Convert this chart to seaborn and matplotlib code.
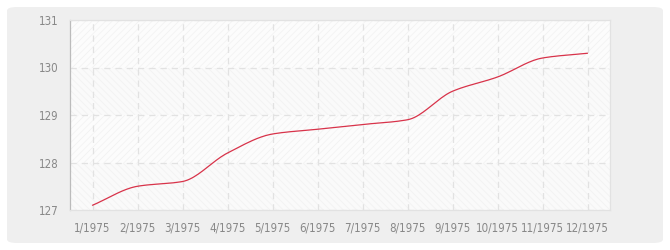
import numpy as np
import pandas as pd
import matplotlib
matplotlib.use("Agg")
import matplotlib.pyplot as plt
from matplotlib.patches import FancyBboxPatch, Rectangle
import seaborn as sns

months = ["1/1975", "2/1975", "3/1975", "4/1975", "5/1975", "6/1975",
          "7/1975", "8/1975", "9/1975", "10/1975", "11/1975", "12/1975"]
values = [127.1, 127.5, 127.6, 128.2, 128.6, 128.7, 128.8, 128.9, 129.5, 129.8, 130.2, 130.3]
yticks = [127, 128, 129, 130, 131]


def smooth(x, y, n=20):
    # monotone cubic Hermite (Fritsch-Carlson) for drawing a smooth curve
    x = np.asarray(x, float); y = np.asarray(y, float)
    h = np.diff(x); d = np.diff(y) / h
    m = np.zeros_like(y)
    m[0] = d[0]; m[-1] = d[-1]
    for i in range(1, len(y) - 1):
        if d[i - 1] * d[i] <= 0:
            m[i] = 0
        else:
            w1 = 2 * h[i] + h[i - 1]; w2 = h[i] + 2 * h[i - 1]
            m[i] = (w1 + w2) / (w1 / d[i - 1] + w2 / d[i])
    xs, ys = [], []
    for i in range(len(x) - 1):
        t = np.linspace(0, 1, n, endpoint=False)
        h00 = 2 * t**3 - 3 * t**2 + 1; h10 = t**3 - 2 * t**2 + t
        h01 = -2 * t**3 + 3 * t**2; h11 = t**3 - t**2
        xs.append(x[i] + t * h[i])
        ys.append(h00 * y[i] + h10 * h[i] * m[i] + h01 * y[i + 1] + h11 * h[i] * m[i + 1])
    xs.append([x[-1]]); ys.append([y[-1]])
    return np.concatenate(xs), np.concatenate(ys)


sns.set_style("white")
plt.rcParams["font.family"] = ["DejaVu Sans"]
plt.rcParams["font.stretch"] = "condensed"
plt.rcParams["hatch.color"] = "#ececec"
plt.rcParams["hatch.linewidth"] = 0.5

fig = plt.figure(figsize=(6.7, 2.5), dpi=100)
fig.patch.set_facecolor("white")
bg = FancyBboxPatch((7 / 670, 7 / 250), 656 / 670, 236 / 250,
                    boxstyle="round,pad=0,rounding_size=0.015",
                    transform=fig.transFigure, facecolor="#efefef",
                    edgecolor="none", zorder=-10)
fig.patches.append(bg)

ax = fig.add_axes([70 / 670, 40 / 250, 540 / 670, 190 / 250])
ax.set_zorder(1)
ax.set_facecolor("#fcfcfc")

# alternating hatched bands
for i, lo in enumerate(yticks[:-1]):
    ax.add_patch(Rectangle((-0.5, lo), 12, 1, facecolor="#fafafa" if i % 2 == 0 else "#fcfcfc",
                           hatch="/////" if i % 2 == 1 else "\\\\\\\\\\", edgecolor="#f1f1f1",
                           linewidth=0, zorder=0))

xs, ys = smooth(np.arange(len(values)), values)
df = pd.DataFrame({"x": xs, "y": ys})
sns.lineplot(data=df, x="x", y="y", ax=ax, color="#d8334a", linewidth=0.9, zorder=3)

ax.set_xlim(-0.5, 11.5)
ax.set_ylim(127, 131)
ax.set_xticks(range(len(months)))
ax.set_xticklabels(months)
ax.set_yticks(yticks)
ax.set_xlabel(""); ax.set_ylabel("")
ax.grid(True, color="#e2e2e2", linestyle=(0, (5, 4)), linewidth=0.9, zorder=1)
ax.set_axisbelow(True)
for s in ax.spines.values():
    s.set_color("#e2e2e2"); s.set_linewidth(0.9)
ax.spines["left"].set_color("#bbbbbb")
ax.spines["bottom"].set_color("#e2e2e2")
ax.tick_params(axis="both", colors="#999999", labelcolor="#888888", labelsize=8.3,
               length=4, width=0.9, direction="out", pad=4)
ax.tick_params(axis="y", pad=4)

fig.savefig("out.png", dpi=100, facecolor=fig.get_facecolor())
